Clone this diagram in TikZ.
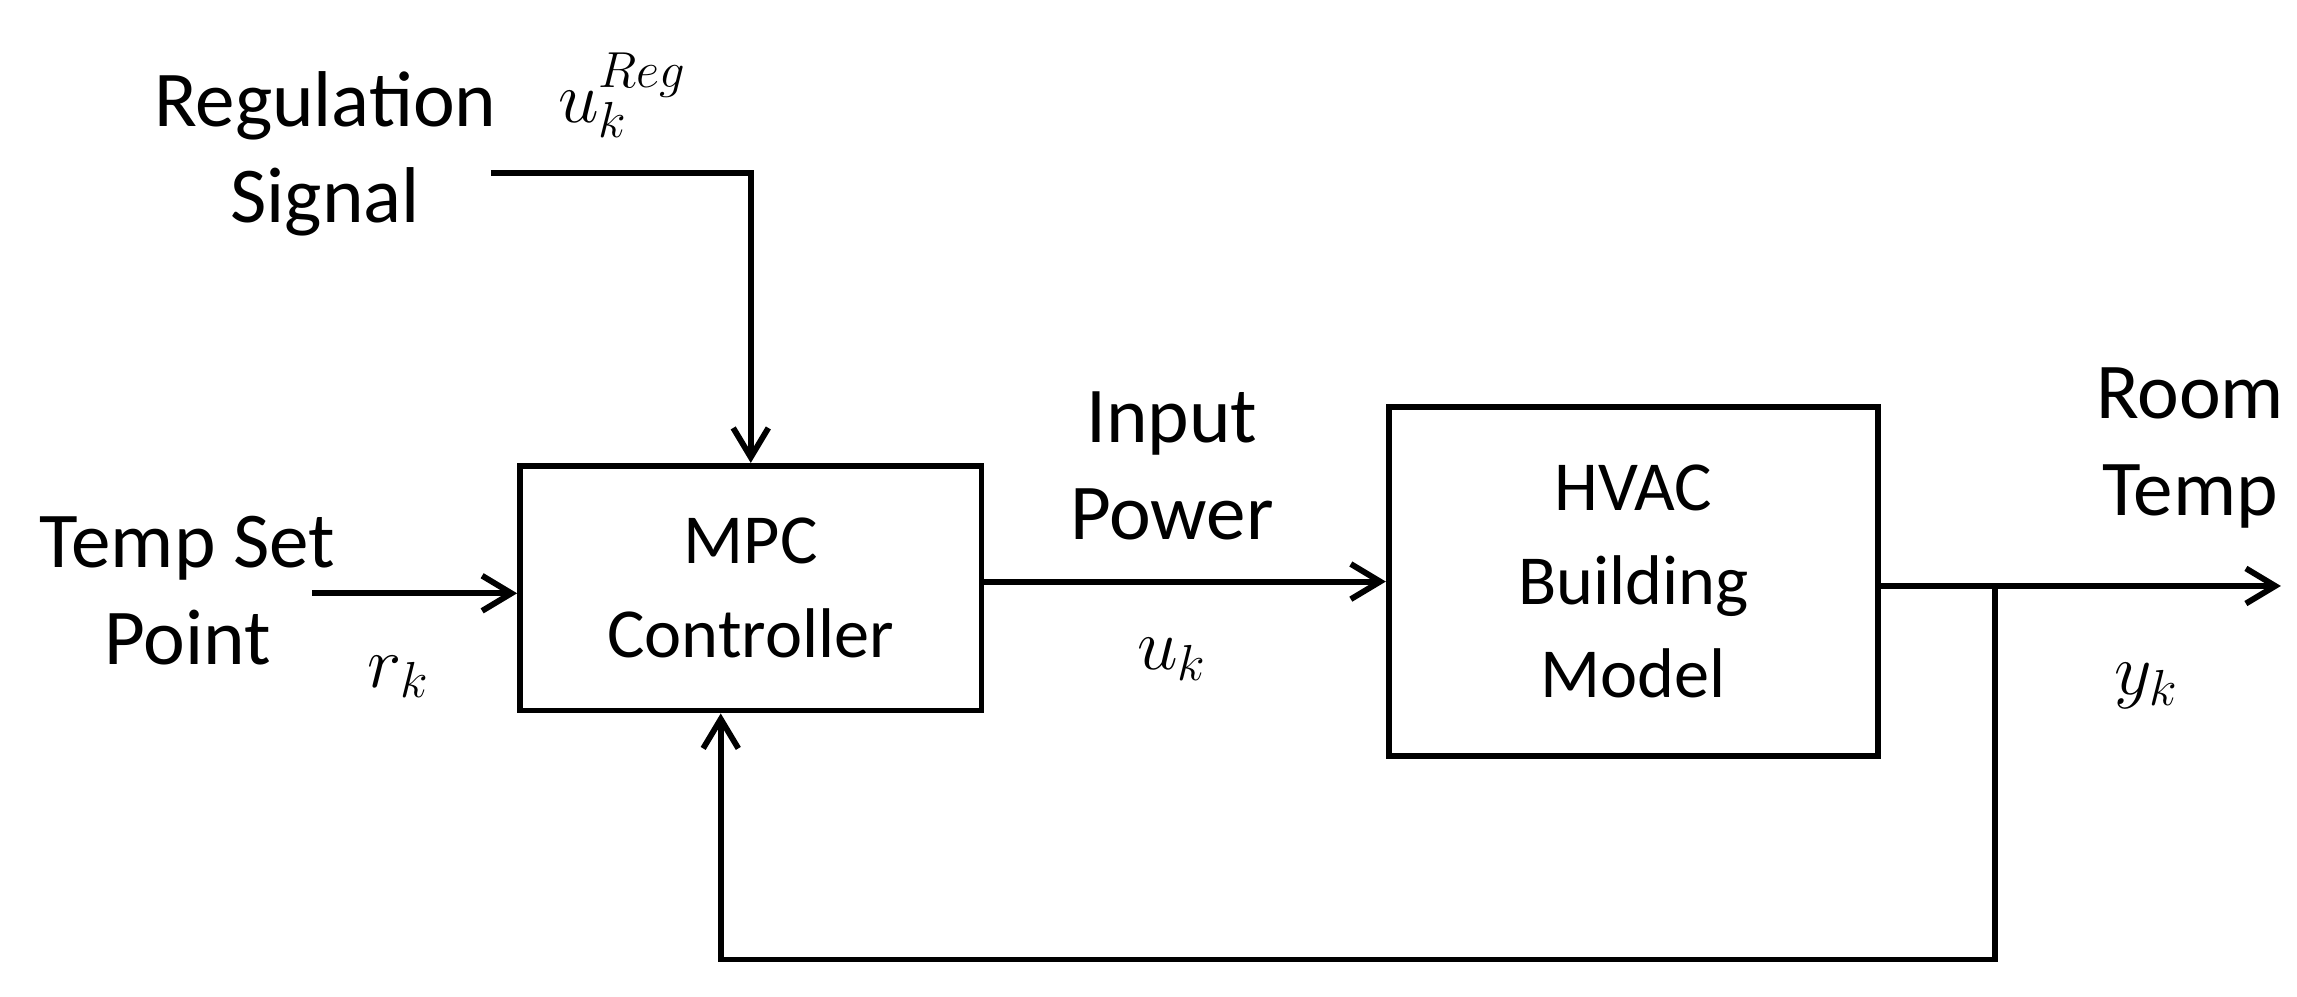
\documentclass[tikz,border=0pt]{standalone}
\usepackage{fontspec}
\setmainfont{Carlito}
\usetikzlibrary{arrows.meta}
\begin{document}
\begin{tikzpicture}[x=0.5pt,y=-0.5pt,
  blk/.style={draw,line width=2pt,inner sep=0pt,align=center,font=\fontsize{24}{32}\selectfont},
  lbl/.style={font=\fontsize{27}{33}\selectfont,align=center,inner sep=0pt},
  wire/.style={line width=2pt},
  arr/.style={wire,-{Straight Barb[length=10pt,width=12pt,line width=2pt]}}]
\useasboundingbox (0,0) rectangle (1568,680);
\node[blk,minimum width=157.5pt,minimum height=83.5pt] (mpc) at (512.5,401.5) {MPC\\Controller};
\node[blk,minimum width=167pt,minimum height=119pt] (hvac) at (1115,397) {HVAC\\Building\\Model};
\node[lbl] (reg) at (222,105) {Regulation\\Signal};
\node[lbl] (ureg) at (425,65) {$u_k^{Reg}$};
\node[lbl] (tsp) at (128,403) {Temp Set\\Point};
\node[lbl] (rk) at (272,462) {$r_k$};
\node[lbl] (ip) at (800,318) {Input\\Power};
\node[lbl] (uk) at (800,450) {$u_k$};
\node[lbl] (rt) at (1495,306) {Room\\Temp};
\node[lbl] (yk) at (1465,468) {$y_k$};
\coordinate (r0) at (335,118);
\coordinate (t0) at (213,405);
\coordinate (o1) at (1557,400);
\coordinate (f0) at (1362,400);
\draw[arr] (r0) -| (mpc.north);
\draw[arr] (t0) -- (t0 -| mpc.west);
\draw[arr] (mpc.east |- 0,397) -- (hvac.west |- 0,397);
\draw[arr] (hvac.east |- o1) -- (o1);
\draw[arr] (f0) -- (1362,655) -| (mpc.south -| 492,0);
\end{tikzpicture}
\end{document}
